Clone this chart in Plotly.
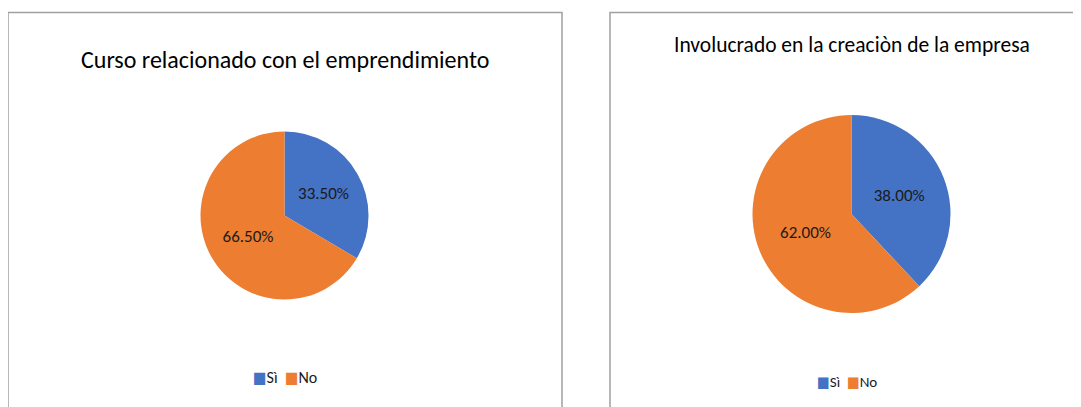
import plotly.graph_objects as go

W, H = 1081, 407
OFF = 8  # page body margin of the generated HTML

labels = ["Sì", "No"]
curso_values = [33.5, 66.5]
involucrado_values = [38.0, 62.0]
titles = ["Curso relacionado con el emprendimiento", "Involucrado en la creaciòn de la empresa"]
colors = ["#4472C4", "#ED7D31"]

FONT = "Carlito, DejaVu Sans Condensed, sans-serif"

def px_x(v):
    return (v - OFF) / W

def px_y(v):
    return 1 - (v - OFF) / H

def dom(cx, cy, d):
    return dict(x=[px_x(cx - d / 2), px_x(cx + d / 2)],
                y=[px_y(cy + d / 2), px_y(cy - d / 2)])

def pie(values, domain):
    return go.Pie(
        labels=labels, values=values, sort=False, direction="clockwise", rotation=0,
        marker=dict(colors=colors, line=dict(color="white", width=0)),
        texttemplate="%{value:.2f}%", textposition="inside", insidetextorientation="horizontal",
        textfont=dict(family=FONT, size=17, color="#1a1a1a"),
        domain=domain, showlegend=False, hoverinfo="label+percent",
    )

fig = go.Figure()
fig.add_trace(pie(curso_values, dom(284.5, 215.5, 168)))
fig.add_trace(pie(involucrado_values, dom(851.5, 214, 198)))

shapes = [
    dict(type="rect", xref="paper", yref="paper", x0=px_x(8), x1=px_x(562), y0=px_y(440), y1=px_y(12.5),
         line=dict(color="#A0A0A0", width=1.5), fillcolor="rgba(0,0,0,0)"),
    dict(type="rect", xref="paper", yref="paper", x0=px_x(610), x1=px_x(1110), y0=px_y(440), y1=px_y(12.5),
         line=dict(color="#A0A0A0", width=1.5), fillcolor="rgba(0,0,0,0)"),
]

def legend_text():
    parts = []
    for lab, col in zip(labels, colors):
        parts.append(f"<span style='color:{col}'>■</span>{lab}")
    return "  ".join(parts)

annotations = [
    dict(text=titles[0], x=px_x(285), y=px_y(60), xref="paper", yref="paper", showarrow=False,
         xanchor="center", yanchor="middle", font=dict(family=FONT, size=24, color="#000000")),
    dict(text=titles[1], x=px_x(852), y=px_y(45), xref="paper", yref="paper", showarrow=False,
         xanchor="center", yanchor="middle", font=dict(family=FONT, size=21.5, color="#000000")),
    dict(text=legend_text(), x=px_x(285), y=px_y(377), xref="paper", yref="paper", showarrow=False,
         xanchor="center", yanchor="middle", font=dict(family=FONT, size=16, color="#1a1a1a")),
    dict(text=legend_text(), x=px_x(847), y=px_y(382), xref="paper", yref="paper", showarrow=False,
         xanchor="center", yanchor="middle", font=dict(family=FONT, size=15, color="#1a1a1a")),
]

fig.update_layout(
    width=W, height=H, margin=dict(l=0, r=0, t=0, b=0),
    paper_bgcolor="white", plot_bgcolor="white",
    shapes=shapes, annotations=annotations, showlegend=False,
)

fig.write_html("out.html")
